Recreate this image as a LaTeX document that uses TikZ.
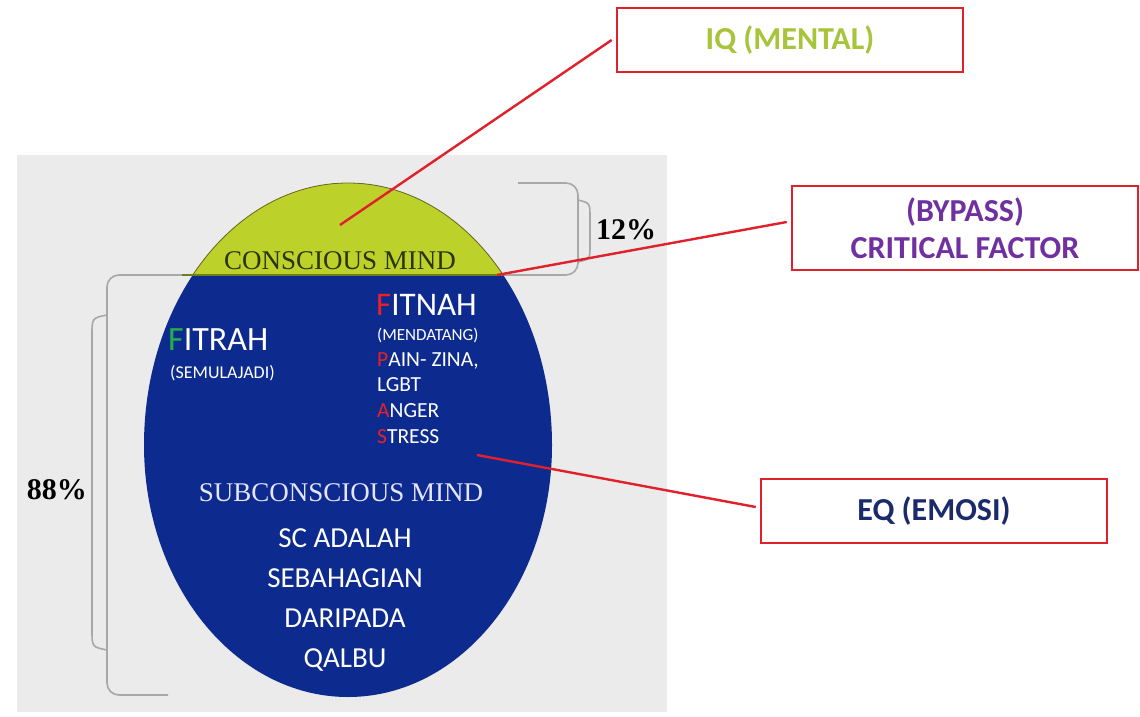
\documentclass[tikz,border=0pt]{standalone}
\usepackage{fontspec}
\setmainfont{Carlito}
\newfontfamily\tms{Liberation Serif}
\definecolor{bggray}{HTML}{EBEBEB}
\definecolor{capyellow}{HTML}{BCD12A}
\definecolor{egblue}{HTML}{0D2A8E}
\definecolor{boxred}{HTML}{E0202A}
\definecolor{iqgreen}{HTML}{A8C43A}
\definecolor{bypurple}{HTML}{7030A0}
\definecolor{eqnavy}{HTML}{1B2A6B}
\definecolor{brgray}{HTML}{A8A8A8}
\definecolor{fgreen}{HTML}{22B04A}
\definecolor{fred}{HTML}{E8202A}
\definecolor{cmdark}{HTML}{2A3408}
\tikzset{
  labelbox/.style={draw=boxred, line width=2.6pt, fill=white, minimum width=346pt, inner sep=0pt, font=\fontsize{32}{37}\selectfont\bfseries, align=center},
  connector/.style={draw=boxred, line width=2.4pt},
  bracketline/.style={draw=brgray, line width=1.6pt, rounded corners=12pt},
  whitetxt/.style={text=white, inner sep=0pt, anchor=west},
  pct/.style={inner sep=0pt, font=\tms\bfseries\fontsize{30}{34}\selectfont},
}
\begin{document}
\begin{tikzpicture}[x=1pt,y=-1pt]
\useasboundingbox (0,0) rectangle (1140,717);
\fill[white] (0,0) rectangle (1140,717);
\fill[bggray] (17,155) rectangle (667,712);
% brackets
\draw[bracketline] (168,695) -- (107,695) -- (107,275) -- (578,275) -- (578,183) -- (518,183);
\draw[draw=brgray, line width=1.6pt] (107,315) .. controls (92,318) .. (92,335) -- (92,630) .. controls (92,647) .. (107,650);
\draw[draw=brgray, line width=1.6pt] (578,200) .. controls (590,203) .. (590,218) -- (590,245) .. controls (590,259) .. (578,262);
\node[pct] (p12) at (626,230) {12\%};
\node[pct] (p88) at (57,490) {88\%};
% egg
\fill[egblue] (144,445) arc (180:360:204 and 262) arc (0:180:204 and 252) -- cycle;
\begin{scope}
\clip (0,0) rectangle (1140,275);
\fill[capyellow, draw=olive!70!black, line width=0.8pt] (144,445) arc (180:360:204 and 262) arc (0:180:204 and 252) -- cycle;
\end{scope}
\draw[line width=2pt, draw=capyellow!60!black] (182,275) -- (503,275);
\node[inner sep=0pt, text=cmdark, font=\tms\fontsize{27}{31}\selectfont] (cm) at (340,261) {CONSCIOUS MIND};
% inner texts
\node[whitetxt, font=\fontsize{34}{38}\selectfont] (fitrah) at (168,340) {\textcolor{fgreen}{F}ITRAH};
\node[whitetxt, font=\fontsize{18}{21}\selectfont] (semula) at (170,373) {(SEMULAJADI)};
\node[whitetxt, font=\fontsize{33}{37}\selectfont] (fitnah) at (376,305) {\textcolor{fred}{F}ITNAH};
\node[whitetxt, font=\fontsize{17}{20}\selectfont] (mendatang) at (377,335) {(MENDATANG)};
\node[whitetxt, font=\fontsize{21.5}{25}\selectfont] (pain) at (377,361) {\textcolor{fred}{P}AIN- ZINA,};
\node[whitetxt, font=\fontsize{21.5}{25}\selectfont] (lgbt) at (377,385) {LGBT};
\node[whitetxt, font=\fontsize{21.5}{25}\selectfont] (anger) at (377,411) {\textcolor{fred}{A}NGER};
\node[whitetxt, font=\fontsize{21.5}{25}\selectfont] (stress) at (377,437) {\textcolor{fred}{S}TRESS};
\node[inner sep=0pt, text=white!90!blue, font=\tms\fontsize{27}{31}\selectfont] (sub) at (341,493) {SUBCONSCIOUS MIND};
\node[inner sep=0pt, text=white, font=\fontsize{29}{40}\selectfont, align=center] (sc) at (345,600) {SC ADALAH\\SEBAHAGIAN\\DARIPADA\\QALBU};
% anchor points of connectors
\coordinate (iqpt) at (340,225);
\coordinate (bypt) at (497,275);
\coordinate (eqpt) at (477,455);
% boxes
\node[labelbox, text=iqgreen, minimum height=64pt] (iq) at (790,40) {IQ (MENTAL)};
\node[labelbox, text=bypurple, minimum height=84pt] (bypass) at (965,228) {(BYPASS)\\CRITICAL FACTOR};
\node[labelbox, text=eqnavy, minimum height=64pt] (eq) at (934,511) {EQ (EMOSI)};
% connectors
\draw[connector] ([xshift=-4pt]iq.west) -- (iqpt);
\draw[connector] ([xshift=-4pt,yshift=6pt]bypass.west) -- (bypt);
\draw[connector] ([xshift=-4pt,yshift=4pt]eq.west) -- (eqpt);
\end{tikzpicture}
\end{document}
